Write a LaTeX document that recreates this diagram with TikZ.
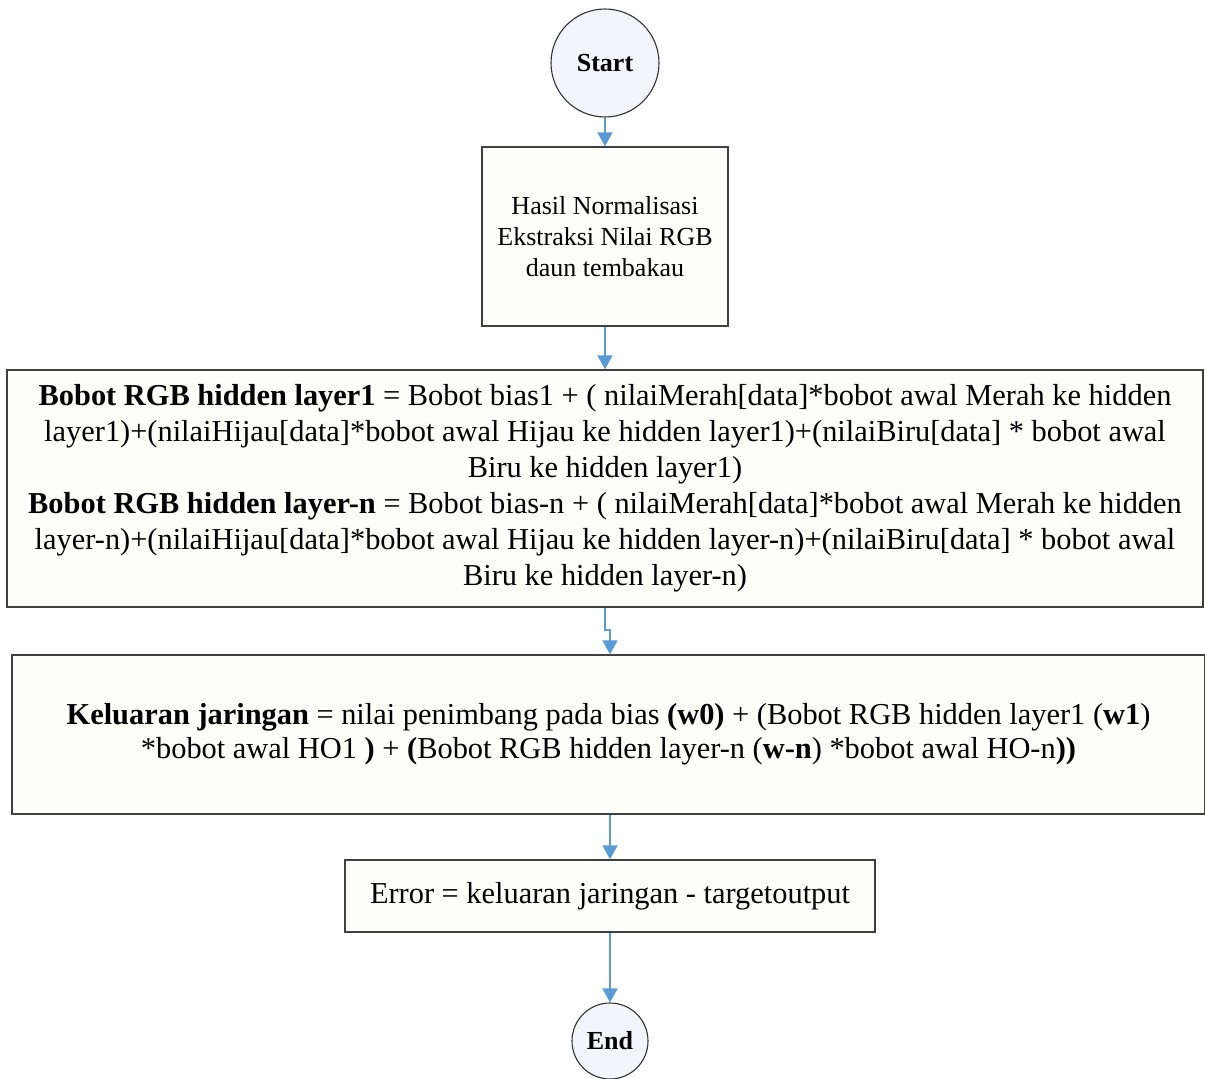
\documentclass[tikz,border=0pt]{standalone}
\usepackage{fontspec}
\setmainfont{Liberation Serif}
\usetikzlibrary{arrows.meta}
\definecolor{flowblue}{RGB}{91,155,213}
\definecolor{boxfill}{RGB}{253,253,249}
\definecolor{circfill}{RGB}{243,245,251}
\tikzset{
  procbox/.style={draw=black!75, line width=1.3pt, fill=boxfill, align=center, inner sep=0pt},
  termnode/.style={circle, draw=black!80, line width=1.1pt, fill=circfill, inner sep=0pt, font=\bfseries\fontsize{26}{30}\selectfont},
  flow/.style={draw=flowblue, line width=1.6pt, -{Triangle[width=15pt,length=14pt]}}
}
\begin{document}
\begin{tikzpicture}[x=1pt,y=-1pt]
\useasboundingbox (0,0) rectangle (1205,1079);
\fill[white] (0,0) rectangle (1205,1079);

\node[termnode, minimum size=108pt] (start) at (605,63) {Start};

\node[procbox, minimum width=246pt, minimum height=179pt,
      font=\fontsize{26}{31}\selectfont] (norm) at (605,236.5)
  {Hasil Normalisasi\\Ekstraksi Nilai RGB\\daun tembakau};

\node[procbox, minimum width=1196pt, minimum height=237pt,
      font=\fontsize{30.4}{36}\selectfont] (hidden) at (605,488.5)
  {\textbf{Bobot RGB hidden layer1} = Bobot bias1 + ( nilaiMerah[data]*bobot awal Merah ke hidden\\
   layer1)+(nilaiHijau[data]*bobot awal Hijau ke hidden layer1)+(nilaiBiru[data] * bobot awal\\
   Biru ke hidden layer1)\\
   \textbf{Bobot RGB hidden layer-n} = Bobot bias-n + ( nilaiMerah[data]*bobot awal Merah ke hidden\\
   layer-n)+(nilaiHijau[data]*bobot awal Hijau ke hidden layer-n)+(nilaiBiru[data] * bobot awal\\
   Biru ke hidden layer-n)};

\node[procbox, minimum width=1193pt, minimum height=159pt,
      font=\fontsize{30.4}{34}\selectfont] (output) at (608.5,734.5)
  {\textbf{Keluaran jaringan} = nilai penimbang pada bias \textbf{(w0)} + (Bobot RGB hidden layer1 (\textbf{w1})\\
   *bobot awal HO1 \textbf{)} + \textbf{(}Bobot RGB hidden layer-n (\textbf{w-n}) *bobot awal HO-n\textbf{))}};

\node[procbox, minimum width=530pt, minimum height=72pt,
      font=\fontsize{30.4}{34}\selectfont] (error) at (610,896)
  {Error = keluaran jaringan - targetoutput};

\node[termnode, minimum size=76pt] (end) at (610,1041) {End};

% connectors
\draw[flow] (start.south) -- (norm.north);
\draw[flow] (norm.south) -- (hidden.north);
\coordinate (jogA) at (605,630);
\coordinate (jogB) at (610,630);
\draw[flow] (605,0 |- hidden.south) -- (jogA) -- (jogB) -- (jogB |- output.north);
\draw[flow] (610,0 |- output.south) -- (610,0 |- error.north);
\draw[flow] (error.south) -- (end.north);
\end{tikzpicture}
\end{document}
